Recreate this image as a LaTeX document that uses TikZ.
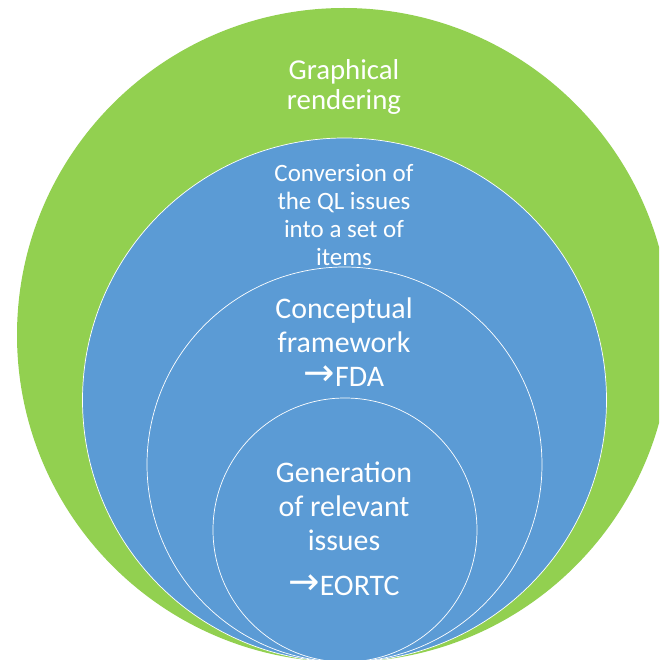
\documentclass[tikz,border=0pt]{standalone}
\usepackage{fontspec}
\setmainfont{Carlito}
\newfontfamily\arrowfont{DejaVu Sans}
\usetikzlibrary{positioning}
\definecolor{outergreen}{HTML}{92D050}
\definecolor{innerblue}{HTML}{5B9BD5}
\newcommand{\toarrow}{{\arrowfont\fontsize{32}{29}\selectfont\raisebox{0.8pt}{→}}}
\begin{document}
\begin{tikzpicture}[x=0.03cm,y=0.03cm,
		ring/.style={fill=innerblue,draw=white,line width=0.6pt},
		label/.style={text=white,align=center,inner sep=0pt}]
			\useasboundingbox (0,0) rectangle (659,660);
			\clip (0,0) rectangle (659,660);
			\fill[outergreen] (344,325) circle[radius=327];
			\draw[ring] (344.5,260) circle[radius=262];
			\draw[ring] (344.5,195.5) circle[radius=197.5];
			\draw[ring] (345,130) circle[radius=132];
			\node[label,font=\fontsize{24.6}{26.4}\selectfont] (graph) at (344,573) {Graphical\\rendering};
			\node[label,font=\fontsize{21.3}{23.8}\selectfont] (conv) at (344,445) {Conversion of\\the QL issues\\into a set of\\items};
			\node[label,font=\fontsize{25.5}{29}\selectfont] (concept) at (344,318) {Conceptual\\framework\\\toarrow FDA};
			\node[label,font=\fontsize{25.5}{29}\selectfont] (gen) at (344,154) {Generation\\of relevant\\issues};
			\node[label,font=\fontsize{25.5}{29}\selectfont] (eortc) [below=0.72cm of gen] {\toarrow EORTC};
		\end{tikzpicture}
\end{document}
